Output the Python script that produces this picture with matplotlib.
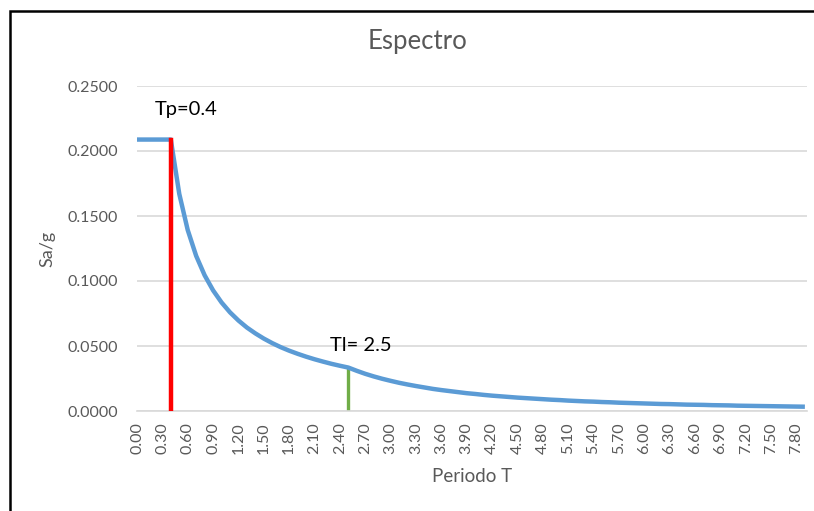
#!/usr/bin/env python3

import matplotlib
matplotlib.use('Agg')
import matplotlib.pyplot as plt
import matplotlib.patches as mpatches

# Spectrum chart (Sa/g vs period T), Excel style

# Periods, one category per 0.1 s
periods = [round(0.1 * i, 1) for i in range(80)]
# Sa/g at each period
sa_g = [0.2088, 0.2088, 0.2088, 0.2088, 0.2088, 0.1670, 0.1392, 0.1193, 0.1044, 0.0928,
        0.0835, 0.0759, 0.0696, 0.0642, 0.0597, 0.0557, 0.0522, 0.0491, 0.0464, 0.0440,
        0.0418, 0.0398, 0.0380, 0.0363, 0.0348, 0.0334, 0.0309, 0.0286, 0.0266, 0.0248,
        0.0232, 0.0217, 0.0204, 0.0192, 0.0181, 0.0170, 0.0161, 0.0153, 0.0145, 0.0137,
        0.0131, 0.0124, 0.0118, 0.0113, 0.0108, 0.0103, 0.0099, 0.0095, 0.0091, 0.0087,
        0.0084, 0.0080, 0.0077, 0.0074, 0.0072, 0.0069, 0.0067, 0.0064, 0.0062, 0.0060,
        0.0058, 0.0056, 0.0054, 0.0053, 0.0051, 0.0049, 0.0048, 0.0047, 0.0045, 0.0044,
        0.0043, 0.0041, 0.0040, 0.0039, 0.0038, 0.0037, 0.0036, 0.0035, 0.0034, 0.0033]

# Marker lines for Tp and Tl: period and height
tp_period, tp_value = 0.4, 0.2088
tl_period, tl_value = 2.5, 0.0334

y_ticks = [0.0, 0.05, 0.10, 0.15, 0.20, 0.25]

plt.rcParams['font.family'] = ['Lato', 'DejaVu Sans']

BLUE = '#5B9BD5'
GREY_TEXT = '#595959'

fig = plt.figure(figsize=(8.14, 5.11), dpi=100)
ax = fig.add_axes([137 / 814, 1 - 411 / 511, 670 / 814, 325 / 511])

# Category positions (Excel line chart puts points at 0, 1, 2, ...)
idx = list(range(len(periods)))
ax.plot(idx, sa_g, color=BLUE, linewidth=3.2, solid_capstyle='butt', zorder=3)

# Vertical markers at Tp and Tl
tp_idx = periods.index(tp_period)
tl_idx = periods.index(tl_period)
ax.plot([tp_idx, tp_idx], [0, tp_value], color='#FF0000', linewidth=3.2, zorder=4)
ax.plot([tl_idx, tl_idx], [0, tl_value], color='#70AD47', linewidth=2.4, zorder=2)

ax.text(tp_idx - 1.9, 0.232, 'Tp=0.4', fontsize=14.5, color='black', va='center')
ax.text(tl_idx - 2.2, 0.0505, 'Tl= 2.5', fontsize=14.5, color='black', va='center')

ax.set_xlim(0, 79.25)
ax.set_ylim(0, 0.25)
ax.set_yticks(y_ticks)
ax.set_yticklabels(['{:.4f}'.format(v) for v in y_ticks])
ax.set_xticks(idx[::3])
ax.set_xticklabels(['{:.2f}'.format(periods[i]) for i in idx[::3]], rotation=90)
ax.tick_params(length=0, labelsize=11.5, labelcolor=GREY_TEXT)
ax.tick_params(axis='y', pad=13.5)
ax.tick_params(axis='x', pad=8)
ax.grid(axis='y', color='#D9D9D9', linewidth=1.2)
ax.set_axisbelow(True)
for side in ['top', 'right', 'left']:
    ax.spines[side].set_visible(False)
ax.spines['bottom'].set_color('#D9D9D9')
ax.spines['bottom'].set_linewidth(1.2)

ax.set_ylabel('Sa/g', fontsize=13, color=GREY_TEXT, labelpad=9)
ax.set_xlabel('Periodo T', fontsize=13.5, color=GREY_TEXT, labelpad=10)
fig.text(418 / 814, 1 - 42 / 511, 'Espectro', fontsize=18.5, color=GREY_TEXT,
         ha='center', va='center')

# Black frame around the chart area (cut at the right and bottom)
frame = mpatches.Rectangle((10 / 814, -0.05), 1.0, 1 - 11 / 511 + 0.05,
                           transform=fig.transFigure, fill=False,
                           edgecolor='black', linewidth=1.8)
fig.patches.append(frame)

fig.savefig('out.png', dpi=100)
